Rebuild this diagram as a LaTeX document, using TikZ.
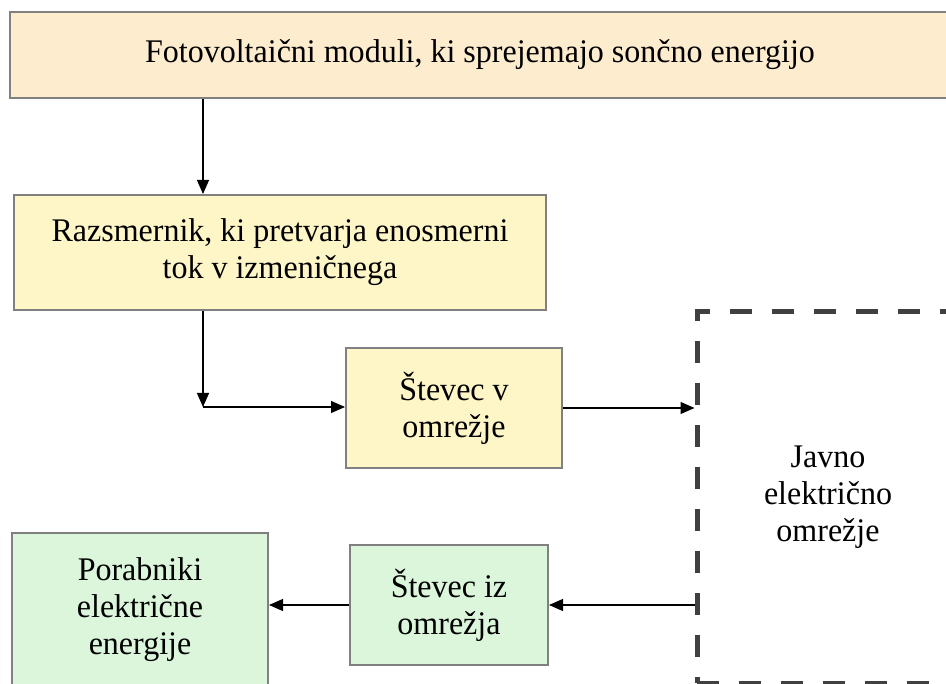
\documentclass[tikz,border=0pt]{standalone}
\usepackage{fontspec}
\setmainfont[FakeStretch=0.97]{Liberation Serif}
\usepackage{xcolor}
\definecolor{peachfill}{RGB}{253, 236, 205}
\definecolor{yellowfill}{RGB}{255, 246, 200}
\definecolor{greenfill}{RGB}{220, 246, 220}
\definecolor{boxborder}{RGB}{128, 128, 128}
\definecolor{gridborder}{RGB}{64, 64, 64}
\usepackage{tikz}
\usetikzlibrary{positioning, calc, arrows.meta}

\begin{document}
\begin{tikzpicture}[x=1pt, y=-1pt,
    block/.style={draw=boxborder, line width=2pt, rectangle, align=center, inner sep=0pt,
        font=\fontsize{33}{37}\selectfont},
    arr/.style={line width=1.2pt, -{Triangle[length=14pt, width=12pt]}}]
    \useasboundingbox (0,0) rectangle (946,684);

    % Boxes
    \node[block, fill=peachfill, minimum width=940pt, minimum height=86pt] (pv) at (480,55)
        {Fotovoltaični moduli, ki sprejemajo sončno energijo};
    \node[block, fill=yellowfill, minimum width=532pt, minimum height=115pt] (inv) at (280,252.5)
        {Razsmernik, ki pretvarja enosmerni\\tok v izmeničnega};
    \node[block, fill=yellowfill, minimum width=216pt, minimum height=120pt] (mout) at (454,408)
        {Števec v\\omrežje};
    \node[block, fill=greenfill, minimum width=198pt, minimum height=120pt] (min) at (449,605)
        {Števec iz\\omrežja};
    \node[block, fill=greenfill, minimum width=256pt, minimum height=153pt] (loads) at (140,609.5)
        {Porabniki\\električne\\energije};

    % Public grid (dashed)
    \node[draw=gridborder, line width=5pt, dash pattern=on 22pt off 20pt, rectangle, align=center,
        inner sep=0pt, minimum width=262pt, minimum height=371pt,
        font=\fontsize{33}{37}\selectfont] (grid) at (828,497.5)
        {Javno\\električno\\omrežje};

    % Connectors
    \coordinate (c1) at (203,0);
    \coordinate (bend) at (203,407);
    \draw[arr] (pv.south -| c1) -- (inv.north -| c1);
    \draw[arr] (inv.south -| c1) -- (bend);
    \draw[arr] (bend) -- (mout.west |- bend);
    \draw[arr] (mout.east) -- (grid.west |- mout.east);
    \draw[arr] (grid.west |- min.east) -- (min.east);
    \draw[arr] (min.west) -- (min.west -| loads.east);
\end{tikzpicture}
\end{document}
